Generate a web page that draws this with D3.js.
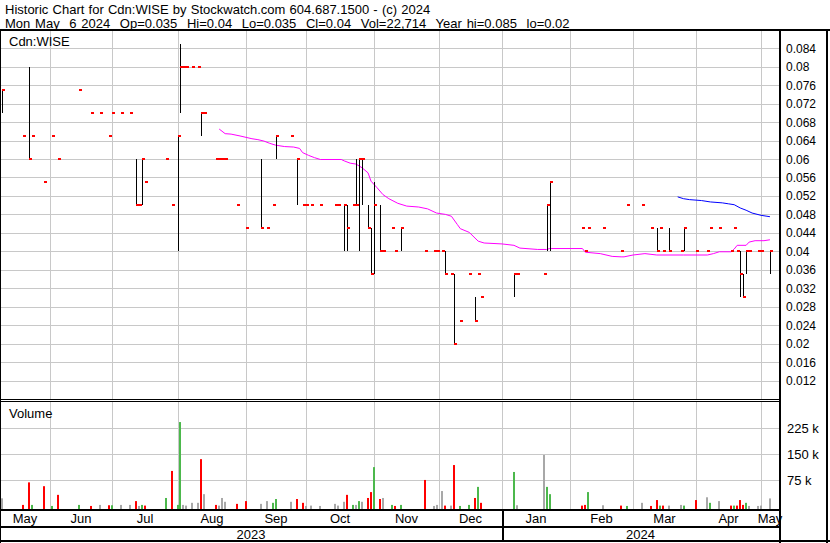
<!DOCTYPE html>
<html><head><meta charset="utf-8">
<script src="https://cdn.jsdelivr.net/npm/d3@7"></script>
<style>
body{margin:0;background:#fff}
svg{display:block}
text{font-family:"Liberation Sans",Arial,sans-serif;fill:#000}
</style>
</head><body>
<svg id="c" width="830" height="543"></svg>
<script>
// ---------------- DATA ----------------
const titleLine1 = "Historic Chart for Cdn:WISE by Stockwatch.com 604.687.1500 - (c) 2024";
const titleLine2 = "Mon May  6 2024  Op=0.035  Hi=0.04  Lo=0.035  Cl=0.04  Vol=22,714  Year hi=0.085  lo=0.02";
const symbolLabel = "Cdn:WISE";
const volumeLabel = "Volume";

const dates = ["2023-05-10","2023-05-19","2023-05-23","2023-05-24","2023-05-30","2023-06-02","2023-06-06","2023-06-15","2023-06-21","2023-06-26",
"2023-06-29","2023-06-30","2023-07-05","2023-07-10","2023-07-12","2023-07-13","2023-07-14","2023-07-17","2023-07-26","2023-07-28",
"2023-08-01","2023-08-02","2023-08-03","2023-08-04","2023-08-08","2023-08-10","2023-08-11","2023-08-14","2023-08-18","2023-08-21",
"2023-08-22","2023-08-23","2023-08-29","2023-09-01","2023-09-08","2023-09-12","2023-09-14","2023-09-15","2023-09-22","2023-09-26",
"2023-09-28","2023-09-29","2023-10-03","2023-10-06","2023-10-13","2023-10-16","2023-10-18","2023-10-19","2023-10-23","2023-10-24",
"2023-10-25","2023-10-26","2023-10-30","2023-10-31","2023-11-01","2023-11-03","2023-11-06","2023-11-09","2023-11-10","2023-11-14",
"2023-11-24","2023-11-29","2023-11-30","2023-12-04","2023-12-05","2023-12-07","2023-12-08","2023-12-12","2023-12-15","2023-12-19",
"2023-12-20","2023-12-21","2024-01-05","2024-01-08","2024-01-19","2024-01-22","2024-01-23","2024-02-07","2024-02-08","2024-02-09",
"2024-02-16","2024-02-26","2024-02-28","2024-03-06","2024-03-11","2024-03-13","2024-03-14","2024-03-15","2024-03-19","2024-03-25",
"2024-03-26","2024-04-01","2024-04-05","2024-04-08","2024-04-11","2024-04-17","2024-04-18","2024-04-19","2024-04-22","2024-04-23",
"2024-04-24","2024-04-25","2024-04-30","2024-05-01","2024-05-06"];

const highs = [0.075,0.065,0.08,0.065,0.055,0.065,0.06,0.075,0.07,0.07,
0.065,0.07,0.07,0.07,0.06,0.05,0.06,0.055,0.06,0.05,
0.065,0.085,0.08,0.08,0.08,0.08,0.07,0.07,0.06,0.06,
0.06,0.06,0.05,0.045,0.06,0.045,0.05,0.065,0.065,0.06,
0.05,0.05,0.05,0.05,0.05,0.05,0.05,0.05,0.05,0.06,
0.06,0.06,0.05,0.045,0.055,0.05,0.04,0.045,0.04,0.045,
0.04,0.04,0.04,0.04,0.04,0.035,0.035,0.025,0.035,0.03,
0.035,0.03,0.035,0.035,0.035,0.05,0.055,0.045,0.04,0.045,
0.045,0.04,0.05,0.05,0.045,0.045,0.045,0.04,0.045,0.04,
0.045,0.04,0.04,0.045,0.045,0.04,0.045,0.04,0.04,0.035,
0.04,0.04,0.04,0.04,0.04];

const lows = [0.07,0.065,0.06,0.065,0.055,0.065,0.06,0.075,0.07,0.07,
0.065,0.07,0.07,0.07,0.05,0.05,0.05,0.055,0.06,0.05,
0.04,0.07,0.08,0.08,0.08,0.08,0.065,0.07,0.06,0.06,
0.06,0.06,0.05,0.045,0.045,0.045,0.05,0.06,0.065,0.05,
0.05,0.05,0.05,0.05,0.05,0.05,0.04,0.04,0.05,0.05,
0.04,0.05,0.045,0.035,0.035,0.04,0.04,0.045,0.04,0.04,
0.04,0.04,0.04,0.04,0.035,0.035,0.02,0.025,0.035,0.025,
0.035,0.03,0.03,0.035,0.035,0.04,0.04,0.045,0.04,0.045,
0.045,0.04,0.05,0.05,0.045,0.04,0.045,0.04,0.04,0.04,
0.04,0.04,0.04,0.045,0.045,0.04,0.045,0.04,0.03,0.03,
0.035,0.04,0.04,0.04,0.035];

const closes = [0.075,0.065,0.06,0.065,0.055,0.065,0.06,0.075,0.07,0.07,
0.065,0.07,0.07,0.07,0.05,0.05,0.06,0.055,0.06,0.05,
0.065,0.08,0.08,0.08,0.08,0.08,0.07,0.07,0.06,0.06,
0.06,0.06,0.05,0.045,0.045,0.045,0.05,0.065,0.065,0.06,
0.05,0.05,0.05,0.05,0.05,0.05,0.05,0.045,0.05,0.05,
0.06,0.06,0.045,0.035,0.05,0.04,0.04,0.045,0.04,0.045,
0.04,0.04,0.04,0.04,0.035,0.035,0.02,0.025,0.035,0.025,
0.035,0.03,0.035,0.035,0.035,0.05,0.055,0.045,0.04,0.045,
0.045,0.04,0.05,0.05,0.045,0.04,0.045,0.04,0.04,0.04,
0.045,0.04,0.04,0.045,0.045,0.04,0.045,0.04,0.035,0.03,
0.04,0.04,0.04,0.04,0.04];

const volumes = [23000,4000,69000,4000,58000,1000,33000,4000,1000,4000,
3000,3000,4000,4000,15000,1000,4000,2000,24000,102000,
4000,243000,4000,2000,10000,10000,136000,35000,4000,2000,
24000,13000,7000,15000,7000,15000,10000,21000,13000,21000,
10000,1000,2000,1000,7000,2000,13000,33000,4000,4000,
15000,13000,24000,41000,113000,21000,24000,4000,1000,4000,
76000,1000,4000,44000,2000,2000,119000,1000,4000,24000,
56000,10000,99000,3000,148000,56000,35000,2000,4000,41000,
3000,2000,1000,10000,1000,18000,2000,2000,2000,4000,
2000,18000,26000,10000,15000,2000,2000,2000,18000,4000,
10000,1000,1000,2000,22714];

// moving averages (magenta = shorter, blue = longer)
const maShortDates = ["2023-08-21","2023-08-23","2023-08-25","2023-08-30","2023-09-01","2023-09-05","2023-09-07","2023-09-11","2023-09-13","2023-09-15",
"2023-09-20","2023-09-25","2023-09-27","2023-09-28","2023-10-02","2023-10-04","2023-10-06","2023-10-17","2023-10-18","2023-10-20",
"2023-10-24","2023-10-26","2023-10-30","2023-10-31","2023-11-02","2023-11-06","2023-11-08","2023-11-13","2023-11-16","2023-11-22",
"2023-11-27","2023-11-30","2023-12-05","2023-12-07","2023-12-11","2023-12-12","2023-12-15","2023-12-20","2023-12-22","2024-01-01",
"2024-01-05","2024-01-09","2024-01-17","2024-01-22","2024-01-23","2024-02-07","2024-02-08","2024-02-15","2024-02-21","2024-02-26",
"2024-02-27","2024-03-01","2024-03-07","2024-03-13","2024-03-26","2024-04-05","2024-04-09","2024-04-11","2024-04-17","2024-04-18",
"2024-04-19","2024-04-24","2024-04-25","2024-04-29","2024-05-02","2024-05-06"];
const maShortValues = [0.0665,0.0655,0.0654,0.0650,0.0647,0.0644,0.0642,0.0639,0.0634,0.0630,
0.0627,0.0626,0.0623,0.0614,0.0608,0.0603,0.0599,0.0599,0.0596,0.0591,
0.0589,0.0581,0.0570,0.0552,0.0538,0.0523,0.0514,0.0504,0.0498,0.0496,
0.0492,0.0483,0.0480,0.0476,0.0458,0.0449,0.0441,0.0422,0.0418,0.0416,
0.0413,0.0407,0.0404,0.0404,0.0406,0.0406,0.0398,0.0395,0.0389,0.0388,
0.0388,0.0392,0.0395,0.0392,0.0392,0.0392,0.0395,0.0399,0.0399,0.0405,
0.0413,0.0413,0.0420,0.0423,0.0423,0.0425];

const maLongDates = ["2024-03-22","2024-03-26","2024-03-28","2024-04-03","2024-04-08","2024-04-12","2024-04-16","2024-04-18","2024-04-22","2024-04-24",
"2024-04-26","2024-05-01","2024-05-03","2024-05-06"];
const maLongValues = [0.0518,0.0514,0.0512,0.0510,0.0507,0.0505,0.0503,0.0501,0.0494,0.0489,
0.0483,0.0478,0.0476,0.0475];

const priceTicks = [0.012,0.016,0.02,0.024,0.028,0.032,0.036,0.04,0.044,0.048,0.052,0.056,0.06,0.064,0.068,0.072,0.076,0.08,0.084];
const volumeTicks = [75000,150000,225000];
const volumeTickLabels = ["75 k","150 k","225 k"];
const monthStarts = ["2023-06-01","2023-07-01","2023-08-01","2023-09-01","2023-10-01","2023-11-01","2023-12-01","2024-01-01","2024-02-01","2024-03-01","2024-04-01","2024-05-01"];
const monthLabels = ["May","Jun","Jul","Aug","Sep","Oct","Nov","Dec","Jan","Feb","Mar","Apr","May"];
const yearLabels = ["2023","2024"];
const yearStart = "2024-01-01";

// ---------------- LAYOUT ----------------
const W = 830, H = 543;
const plotR = 779;            // right edge of plot area
const priceTop = 31, priceBot = 399;
const volTop = 402, volBot = 509;
const gridColor = "#c8c8c8";

const parse = d3.timeParse("%Y-%m-%d");
const base = new Date(2023, 4, 1);
// weekday index (weekend dates fall back on the preceding Friday)
function wd(s) {
  const d = parse(s);
  let n = 0;
  const t = new Date(base);
  while (t <= d) { const g = t.getDay(); if (g !== 0 && g !== 6) n++; t.setDate(t.getDate() + 1); }
  return n - 1;
}

const x = d3.scaleLinear().domain([6.37, 268.04]).range([0, plotR]);
const yP = d3.scaleLinear().domain([0.012, 0.084]).range([380.5, 48.3]);
const yV = d3.scaleLinear().domain([0, 225000]).range([506.3, 428.3]);

const svg = d3.select("#c");
svg.append("rect").attr("width", W).attr("height", H).attr("fill", "#fff");

// header
svg.append("text").attr("x", 5).attr("y", 13.5).attr("font-size", 13)
  .style("white-space", "pre").style("word-spacing", "0.6px").text(titleLine1);
svg.append("text").attr("x", 5).attr("y", 27.5).attr("font-size", 13)
  .style("white-space", "pre").style("word-spacing", "1.2px").text(titleLine2);

// grids: price
const gP = svg.append("g");
gP.selectAll("line.h").data(priceTicks).join("line")
  .attr("x1", 0).attr("x2", plotR)
  .attr("y1", d => Math.round(yP(d)) + 0.5).attr("y2", d => Math.round(yP(d)) + 0.5)
  .attr("stroke", gridColor);
const monthX = monthStarts.map(s => Math.round(x(wd(s))));
gP.selectAll("line.v").data(monthX).join("line")
  .attr("x1", d => d + 0.5).attr("x2", d => d + 0.5)
  .attr("y1", priceTop).attr("y2", priceBot)
  .attr("stroke", gridColor);

// grids: volume
const gV = svg.append("g");
gV.selectAll("line.h").data(volumeTicks).join("line")
  .attr("x1", 0).attr("x2", plotR)
  .attr("y1", d => Math.round(yV(d)) + 0.5).attr("y2", d => Math.round(yV(d)) + 0.5)
  .attr("stroke", gridColor);
gV.selectAll("line.v").data(monthX).join("line")
  .attr("x1", d => d + 0.5).attr("x2", d => d + 0.5)
  .attr("y1", volTop).attr("y2", volBot)
  .attr("stroke", gridColor);

// price axis labels
svg.append("g").selectAll("text").data(priceTicks).join("text")
  .attr("x", 786).attr("y", d => yP(d) + 4.5).attr("font-size", 12)
  .text(d => d3.format("")(+d.toFixed(3)));
// volume axis labels
svg.append("g").selectAll("text").data(volumeTicks).join("text")
  .attr("x", 787).attr("y", d => yV(d) + 5).attr("font-size", 13)
  .text((d, i) => volumeTickLabels[i]);

svg.append("text").attr("x", 9).attr("y", 46).attr("font-size", 13).text(symbolLabel);
svg.append("text").attr("x", 9).attr("y", 418).attr("font-size", 13).text(volumeLabel);

// records
const recs = dates.map((d, i) => ({
  i: wd(d), hi: highs[i], lo: lows[i], cl: closes[i], v: volumes[i],
  prev: i > 0 ? closes[i - 1] : closes[i]
}));

// moving averages
const line = d3.line().x(d => x(wd(d[0]))).y(d => yP(d[1]));
svg.append("path").datum(maShortDates.map((d, i) => [d, maShortValues[i]]))
  .attr("d", line).attr("fill", "none").attr("stroke", "#ff00ff").attr("stroke-width", 1);
svg.append("path").datum(maLongDates.map((d, i) => [d, maLongValues[i]]))
  .attr("d", line).attr("fill", "none").attr("stroke", "#0000ff").attr("stroke-width", 1);

// hi-lo lines
svg.append("g").selectAll("line").data(recs.filter(r => r.hi > r.lo)).join("line")
  .attr("x1", r => Math.round(x(r.i)) + 0.5).attr("x2", r => Math.round(x(r.i)) + 0.5)
  .attr("y1", r => Math.round(yP(r.hi))).attr("y2", r => Math.round(yP(r.lo)))
  .attr("stroke", "#000").attr("stroke-width", 1);
// close ticks
svg.append("g").selectAll("rect").data(recs).join("rect")
  .attr("x", r => Math.round(x(r.i))).attr("y", r => Math.round(yP(r.cl)) - 1)
  .attr("width", 3).attr("height", 2).attr("fill", "#ff0000");

// volume bars
svg.append("g").selectAll("rect").data(recs).join("rect")
  .attr("x", r => Math.round(x(r.i)) - 1).attr("width", 2)
  .attr("y", r => Math.min(yV(r.v), volBot - 1)).attr("height", r => volBot - Math.min(yV(r.v), volBot - 1))
  .attr("fill", r => r.cl > r.prev ? "#4cb84c" : r.cl < r.prev ? "#ff0000" : "#a8a8a8");

// frame lines
const blk = (x1, y1, w, h) => svg.append("rect").attr("x", x1).attr("y", y1).attr("width", w).attr("height", h).attr("fill", "#000");
blk(0, 29, W, 2);                 // under header
blk(0, 399, plotR, 1);            // panel separator (double)
blk(0, 401, plotR, 1);
blk(0, 509, plotR + 2, 2);        // below volume
blk(0, 526, plotR + 2, 2);        // between months and years
blk(0, 540, W, 2);                // bottom
blk(plotR, 29, 2, H - 29);        // right axis line
blk(0, 29, 1, H - 29);            // left border
blk(W - 4, 29, 2, H - 29);        // right border
const yearX = Math.round(x(wd(yearStart)));
blk(yearX, 509, 2, 33);

// month labels
const bounds = [0, ...monthX, plotR];
svg.append("g").selectAll("text").data(monthLabels).join("text")
  .attr("x", (d, i) => (bounds[i] + bounds[i + 1]) / 2).attr("y", 523)
  .attr("text-anchor", "middle").attr("font-size", 13).text(d => d);
const yb = [0, yearX, plotR];
svg.append("g").selectAll("text").data(yearLabels).join("text")
  .attr("x", (d, i) => (yb[i] + yb[i + 1]) / 2).attr("y", 539)
  .attr("text-anchor", "middle").attr("font-size", 13).text(d => d);
</script>
</body></html>
